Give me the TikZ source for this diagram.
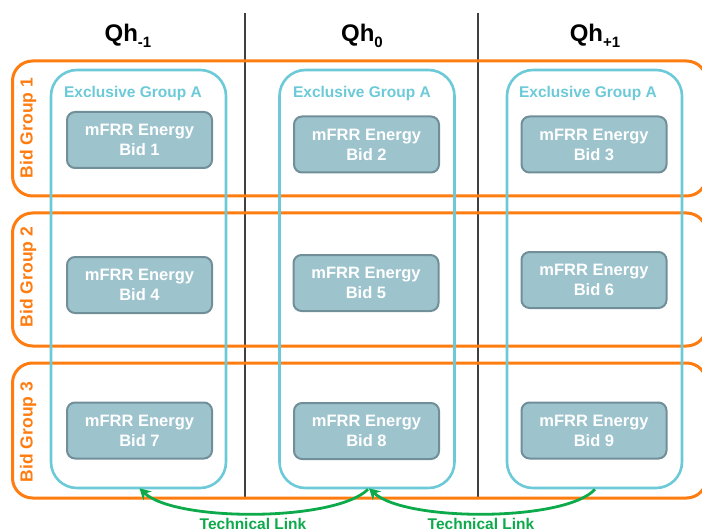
\documentclass[tikz,border=0pt]{standalone}
\usepackage{fontspec}
\setmainfont{Liberation Sans}
\usetikzlibrary{arrows.meta}
\definecolor{bgorange}{HTML}{FF7C10}
\definecolor{egcyan}{HTML}{6CCAD8}
\definecolor{bidfill}{HTML}{9DC3CD}
\definecolor{bidline}{HTML}{718F98}
\definecolor{linkgreen}{HTML}{0DAA4B}
\definecolor{divgray}{HTML}{404040}
\tikzset{
  bidgroup/.style={draw=bgorange, line width=3pt, rounded corners=20pt, minimum width=694pt, inner sep=0pt},
  exgroup/.style={draw=egcyan, line width=2.6pt, rounded corners=26pt, minimum width=175pt, minimum height=418pt, inner sep=0pt},
  bidbox/.style={draw=bidline, line width=2pt, fill=bidfill, rounded corners=8pt, minimum width=145pt, minimum height=56pt, inner sep=0pt, align=center, text=white, font=\fontsize{16.5}{20}\selectfont\bfseries},
  exlabel/.style={text=egcyan, font=\fontsize{15.5}{18}\selectfont\bfseries, inner sep=0pt},
  bglabel/.style={text=bgorange, font=\fontsize{17.5}{20}\selectfont\bfseries, rotate=90, inner sep=0pt},
  qhlabel/.style={font=\fontsize{24}{28}\selectfont\bfseries, anchor=base, inner sep=0pt},
  divider/.style={draw=divgray, line width=1.3pt},
  techlink/.style={draw=linkgreen, line width=2.8pt, -{Stealth[length=11pt,width=12pt]}},
  linklabel/.style={text=linkgreen, font=\fontsize{15.5}{18}\selectfont\bfseries, inner sep=0pt}
}
\newcommand{\qhsub}[1]{{\fontsize{15}{15}\selectfont\raisebox{-6pt}{#1}}}
\begin{document}
\begin{tikzpicture}[x=1pt,y=-1pt]
\useasboundingbox (0,0) rectangle (702,532);
\clip (0,0) rectangle (702,532);
% dividers
\coordinate (d1t) at (245,13); \coordinate (d1b) at (245,498);
\coordinate (d2t) at (478,13); \coordinate (d2b) at (478,498);
\draw[divider] (d1t) -- (d1b);
\draw[divider] (d2t) -- (d2b);
% headings
\node[qhlabel] (qh1) at (128,42) {Qh\qhsub{-1}};
\node[qhlabel] (qh2) at (362,42) {Qh\qhsub{0}};
\node[qhlabel] (qh3) at (595,42) {Qh\qhsub{+1}};
% bid groups
\node[bidgroup, minimum height=135pt] (bg1) at (359.5,128.5) {};
\node[bidgroup, minimum height=133pt] (bg2) at (359.5,279.5) {};
\node[bidgroup, minimum height=135pt] (bg3) at (359.5,430.5) {};
\node[bglabel] (bgl1) at (28,128) {Bid Group 1};
\node[bglabel] (bgl2) at (28,277) {Bid Group 2};
\node[bglabel] (bgl3) at (28,432) {Bid Group 3};
% exclusive groups
\node[exgroup] (eg1) at (138.5,279) {};
\node[exgroup] (eg2) at (367,279) {};
\node[exgroup] (eg3) at (594.5,279) {};
\node[exlabel] (egl1) at (133,93) {Exclusive Group A};
\node[exlabel] (egl2) at (362,93) {Exclusive Group A};
\node[exlabel] (egl3) at (588,93) {Exclusive Group A};
% bids
\node[bidbox] (b1) at (139.5,140) {mFRR Energy\\Bid 1};
\node[bidbox] (b2) at (366.5,144.5) {mFRR Energy\\Bid 2};
\node[bidbox] (b3) at (594,144.5) {mFRR Energy\\Bid 3};
\node[bidbox] (b4) at (139.5,285) {mFRR Energy\\Bid 4};
\node[bidbox] (b5) at (366,283) {mFRR Energy\\Bid 5};
\node[bidbox] (b6) at (594,280) {mFRR Energy\\Bid 6};
\node[bidbox] (b7) at (139.5,430.5) {mFRR Energy\\Bid 7};
\node[bidbox] (b8) at (366.5,431) {mFRR Energy\\Bid 8};
\node[bidbox] (b9) at (594,430.5) {mFRR Energy\\Bid 9};
% technical links
\draw[techlink] ([xshift=1pt]eg2.south) .. controls (335,522) and (175,522) .. ([xshift=1pt,yshift=1pt]eg1.south);
\draw[techlink] ([xshift=0.5pt]eg3.south) .. controls (565,522) and (405,522) .. ([xshift=2pt,yshift=1pt]eg2.south);
\node[linklabel] (tl1) at (253,524) {Technical Link};
\node[linklabel] (tl2) at (481,524) {Technical Link};
\end{tikzpicture}
\end{document}
